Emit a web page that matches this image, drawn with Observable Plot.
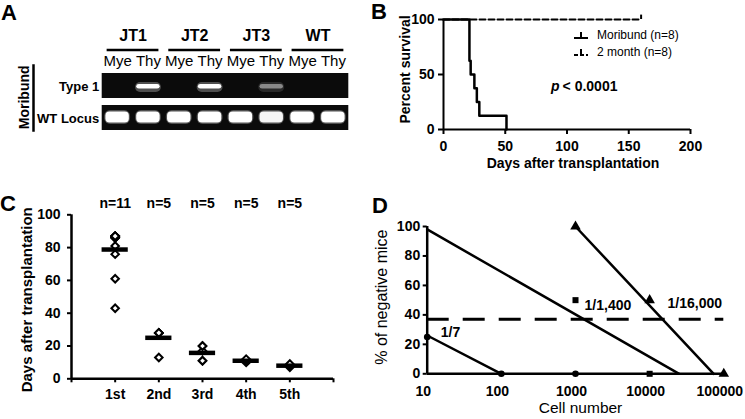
<!DOCTYPE html>
<html>
<head>
<meta charset="utf-8">
<script src="https://cdn.jsdelivr.net/npm/d3@7"></script>
<script src="https://cdn.jsdelivr.net/npm/@observablehq/plot@0.6"></script>
<style>
html,body{margin:0;padding:0;background:#fff;}
#fig{position:relative;width:745px;height:419px;overflow:hidden;background:#fff;font-family:"Liberation Sans",Arial,Helvetica,sans-serif;color:#000;}
#fig .panel{position:absolute;}
#fig .letter{position:absolute;font-weight:bold;font-size:22px;line-height:22px;}
#legendB{position:absolute;font-size:12px;}
#legendB .item{display:flex;align-items:center;height:17.5px;}
#legendB svg{margin-right:8px;}
</style>
</head>
<body>
<div id="fig"></div>
<script>
// ---------------- Panel A: gel ----------------
const gelGroups = ["JT1", "JT2", "JT3", "WT"];
const laneTypes = ["Mye", "Thy"];
const gelRows = ["Type 1", "WT Locus"];
const type1Intensity = [0, 1, 0, 1, 0, 0.45, 0, 0];
const wtLocusIntensity = [1, 1, 1, 1, 1, 0.95, 1, 1];
const gelSideLabel = ["Moribund"];

// ---------------- Panel B: survival ----------------
const moribundDays = [0, 21, 22, 25, 27, 29, 51];
const moribundSurvival = [100, 62.5, 50, 37.5, 25, 12.5, 0];
const twoMonthDays = [0, 160];
const twoMonthSurvival = [100, 100];
const twoMonthCensored = [160];
const survivalLegend = ["Moribund (n=8)", "2 month (n=8)"];
const survivalXTicks = [0, 50, 100, 150, 200];
const survivalYTicks = [0, 50, 100];
const pValueParts = ["p", "< 0.0001"];
const pValueAt = {day: 94, pct: 39};

// ---------------- Panel C: serial transplantation ----------------
const passages = ["1st", "2nd", "3rd", "4th", "5th"];
const passageN = ["n=11", "n=5", "n=5", "n=5", "n=5"];
const latency1st = [43, 61, 76, 81, 86, 86, 86, 87, 87, 87, 87];
const latency2nd = [13, 28, 28, 28, 28];
const latency3rd = [11, 11, 17, 20, 20];
const latency4th = [10, 11, 11, 11, 12];
const latency5th = [7, 8, 8, 8, 9];
const latencyYTicks = [0, 20, 40, 60, 80, 100];

// ---------------- Panel D: limiting dilution ----------------
const circleCells = [10, 100, 1000];
const circleNeg = [25, 0, 0];
const squareCells = [1000, 10000];
const squareNeg = [50, 0];
const triangleCells = [1000, 10000, 100000];
const triangleNeg = [100, 50, 0];
const fitCircleCells = [10, 100];
const fitCircleNeg = [26, 0];
const fitSquareCells = [10, 25000];
const fitSquareNeg = [98, 0];
const fitTriangleCells = [1000, 73000];
const fitTriangleNeg = [100, 0];
const thresholdNeg = [37];
const freqLabels = ["1/7", "1/1,400", "1/16,000"];
const freqLabelCells = [20.6, 2735, 40600];
const freqLabelNeg = [28, 46.4, 47.5];
const cellTicks = [10, 100, 1000, 10000, 100000];
const negTicks = [0, 20, 40, 60, 80, 100];

// ---------------- helpers ----------------
const FONT = '"Liberation Sans", Arial, Helvetica, sans-serif';
const svgStyle = `font-family:${FONT};font-size:14px;font-weight:bold;color:#000;background:transparent;overflow:visible;`;
const fig = document.getElementById("fig");
function place(el, left, top) {
  el.classList.add("panel");
  el.style.left = left + "px";
  el.style.top = top + "px";
  fig.appendChild(el);
}
function letter(t, left, top) {
  const d = document.createElement("div");
  d.className = "letter";
  d.textContent = t;
  d.style.left = left + "px";
  d.style.top = top + "px";
  fig.appendChild(d);
}
const mid = {textAnchor: "middle", lineAnchor: "middle"};

// ---------------- Panel A ----------------
const lanes = d3.range(gelGroups.length * laneTypes.length).map(i => ({
  i, group: gelGroups[Math.floor(i / laneTypes.length)], type: laneTypes[i % laneTypes.length]
}));
const nL = lanes.length;
const type1Bands = lanes.map(l => ({lane: l.i, row: gelRows[0], v: type1Intensity[l.i]})).filter(d => d.v > 0);
const wtBands = lanes.map(l => ({lane: l.i, row: gelRows[1], v: wtLocusIntensity[l.i]})).filter(d => d.v > 0);
const groupCenter = (d, i) => i * laneTypes.length + (laneTypes.length - 1) / 2;

const plotA = Plot.plot({
  width: 370, height: 180,
  marginLeft: 101.7, marginRight: 21.7, marginTop: 71.7, marginBottom: 50,
  style: svgStyle,
  x: {domain: [-0.5, nL - 0.5], axis: null},
  y: {type: "band", domain: gelRows, paddingInner: 0.23, paddingOuter: 0, axis: null},
  marks: [
    Plot.barX(gelRows, {x1: -0.5, x2: nL - 0.5, y: d => d, fill: "#0b0b0b"}),
    Plot.barX(type1Bands, {x1: d => d.lane - 0.42, x2: d => d.lane + 0.42, y: "row", insetTop: 9, insetBottom: 6,
      fill: "#cfcfcf", fillOpacity: d => d.v * 0.35, rx: 5, ariaLabel: "gel glow"}),
    Plot.barX(wtBands, {x1: d => d.lane - 0.42, x2: d => d.lane + 0.42, y: "row", insetTop: 5, insetBottom: 6,
      fill: "#cfcfcf", fillOpacity: d => d.v * 0.35, rx: 6, ariaLabel: "gel glow"}),
    Plot.barX(type1Bands, {x1: d => d.lane - 0.38, x2: d => d.lane + 0.38, y: "row", insetTop: 11, insetBottom: 9.5,
      fill: "#fff", fillOpacity: d => d.v, rx: 2.5, ariaLabel: "gel band"}),
    Plot.barX(wtBands, {x1: d => d.lane - 0.38, x2: d => d.lane + 0.38, y: "row", insetTop: 6.5, insetBottom: 7.5,
      fill: "#fff", fillOpacity: d => d.v, rx: 4, ariaLabel: "gel band"}),
    Plot.text(gelRows, {y: d => d, text: d => d, frameAnchor: "left", textAnchor: "end", lineAnchor: "middle", dx: -3, dy: 1, fontSize: 13}),
    Plot.text(lanes, {x: "i", text: "type", frameAnchor: "top", ...mid, dy: -11, fontWeight: "normal", fontSize: 15}),
    Plot.text(gelGroups, {x: groupCenter, text: d => d, frameAnchor: "top", ...mid, dy: -36, fontSize: 16}),
    Plot.ruleY(gelGroups, {y: () => gelRows[0], x1: (d, i) => groupCenter(d, i) - 0.84, x2: (d, i) => groupCenter(d, i) + 0.84,
      dy: -36, strokeWidth: 2.5}),
    Plot.frame({anchor: "left", dx: -68.7, insetTop: -6.7, strokeWidth: 2.5}),
    Plot.text(gelSideLabel, {text: d => d, frameAnchor: "left", ...mid, rotate: -90, dx: -77.7, dy: -4, fontSize: 14})
  ]
});
{
  const svg = d3.select(plotA.tagName === "svg" ? plotA : plotA.querySelector("svg"));
  const defs = svg.insert("defs", ":first-child");
  defs.append("filter").attr("id", "gelGlow").attr("x", "-30%").attr("y", "-80%").attr("width", "160%").attr("height", "260%")
    .append("feGaussianBlur").attr("stdDeviation", 1.8);
  defs.append("filter").attr("id", "gelSoft").attr("x", "-20%").attr("y", "-50%").attr("width", "140%").attr("height", "200%")
    .append("feGaussianBlur").attr("stdDeviation", 0.6);
  svg.selectAll('g[aria-label="gel glow"]').attr("filter", "url(#gelGlow)");
  svg.selectAll('g[aria-label="gel band"]').attr("filter", "url(#gelSoft)");
}
place(plotA, 0, 0);

// ---------------- Panel B ----------------
const moribund = moribundDays.map((d, i) => ({day: d, pct: moribundSurvival[i]}));
const twoMonth = twoMonthDays.map((d, i) => ({day: d, pct: twoMonthSurvival[i]}));
const plotB = Plot.plot({
  width: 375, height: 180,
  marginLeft: 73, marginRight: 55, marginTop: 19, marginBottom: 51,
  style: svgStyle,
  x: {domain: [0, 200]},
  y: {domain: [0, 100]},
  marks: [
    Plot.axisX({ticks: survivalXTicks, tickSize: 5, tickPadding: 7, strokeWidth: 2, label: null, fontSize: 14, fontWeight: "bold"}),
    Plot.axisY({ticks: survivalYTicks, tickSize: 5, tickPadding: 4, strokeWidth: 2, label: null, fontSize: 14, fontWeight: "bold"}),
    Plot.ruleY([0], {strokeWidth: 2}),
    Plot.ruleX([0], {strokeWidth: 2}),
    Plot.line(twoMonth, {x: "day", y: "pct", strokeWidth: 2, strokeDasharray: "6,3"}),
    Plot.ruleX(twoMonthCensored, {x: d => d, y1: 100, y2: 104, strokeWidth: 2}),
    Plot.line(moribund, {x: "day", y: "pct", curve: "step-after", strokeWidth: 2.5}),
    Plot.text([pValueParts[0]], {x: pValueAt.day, y: pValueAt.pct, text: d => d, textAnchor: "end", fontStyle: "italic", fontSize: 14}),
    Plot.text([pValueParts[1]], {x: pValueAt.day, y: pValueAt.pct, text: d => d, textAnchor: "start", dx: 3, fontSize: 14}),
    Plot.text(["Days after transplantation"], {text: d => d, frameAnchor: "bottom", ...mid, dy: 34, dx: 6, fontSize: 14}),
    Plot.text(["Percent survival"], {text: d => d, frameAnchor: "left", ...mid, rotate: -90, dx: -38, dy: -5, fontSize: 14})
  ]
});
place(plotB, 370, 0);

// legend for B
{
  const lg = document.createElement("div");
  lg.id = "legendB";
  lg.style.left = "573px";
  lg.style.top = "26px";
  survivalLegend.forEach((label, k) => {
    const item = document.createElement("div");
    item.className = "item";
    const dash = k === 0 ? "" : 'stroke-dasharray="4,2"';
    item.innerHTML =
      `<svg width="16" height="10"><line x1="1" x2="15" y1="8" y2="8" stroke="#000" stroke-width="2" ${dash}/>` +
      `<line x1="8" x2="8" y1="8" y2="2" stroke="#000" stroke-width="2"/></svg><span>${label}</span>`;
    lg.appendChild(item);
  });
  fig.appendChild(lg);
}

// ---------------- Panel C ----------------
const latency = [latency1st, latency2nd, latency3rd, latency4th, latency5th];
const cPoints = latency.flatMap((vals, g) => vals.map(v => ({g: g + 1, v})));
const cMeans = latency.map((vals, g) => ({g: g + 1, m: d3.mean(vals)}));
const plotC = Plot.plot({
  width: 370, height: 229,
  marginLeft: 71, marginRight: 37, marginTop: 24.3, marginBottom: 40.7,
  style: svgStyle,
  x: {domain: [0, passages.length + 1]},
  y: {domain: [0, 100]},
  marks: [
    Plot.axisY({ticks: latencyYTicks, tickSize: 4, tickPadding: 7, strokeWidth: 2, label: null, fontSize: 14, fontWeight: "bold"}),
    Plot.axisX({ticks: d3.range(0, passages.length + 2), tickFormat: i => passages[i - 1] ?? "", tickSize: 4, tickPadding: 6,
      strokeWidth: 2, label: null, fontSize: 14, fontWeight: "bold"}),
    Plot.ruleX([0], {strokeWidth: 2.5}),
    Plot.ruleY([0], {strokeWidth: 2.5}),
    Plot.dot(cPoints, {x: "g", y: "v", symbol: "diamond2", r: 3.4, stroke: "#000", strokeWidth: 2, fill: "#fff"}),
    Plot.ruleY(cMeans, {y: "m", x1: d => d.g - 0.3, x2: d => d.g + 0.3, strokeWidth: 4.5}),
    Plot.text(passageN, {x: (d, i) => i + 1, text: d => d, frameAnchor: "top", ...mid, dy: -11, fontSize: 14}),
    Plot.text(["Days after transplantation"], {text: d => d, frameAnchor: "left", ...mid, rotate: -90, dx: -44, dy: 3, fontSize: 15})
  ]
});
place(plotC, 0, 190);

// ---------------- Panel D ----------------
const zip = (xs, ys, s) => xs.map((x, i) => ({cells: x, neg: ys[i], s}));
const dFits = [
  ...zip(fitCircleCells, fitCircleNeg, "circle"),
  ...zip(fitSquareCells, fitSquareNeg, "square"),
  ...zip(fitTriangleCells, fitTriangleNeg, "triangle")
];
const plotD = Plot.plot({
  width: 375, height: 229,
  marginLeft: 56.7, marginRight: 21.7, marginTop: 36, marginBottom: 45.7,
  style: svgStyle,
  x: {type: "log", domain: [10, 100000]},
  y: {domain: [0, 100]},
  marks: [
    Plot.axisX({ticks: cellTicks, tickFormat: d => String(d), tickSize: 0, tickPadding: 12, dx: -4, label: null, fontSize: 14, fontWeight: "bold"}),
    Plot.axisY({ticks: negTicks, tickSize: 4, tickPadding: 3, strokeWidth: 2, label: null, fontSize: 14, fontWeight: "bold"}),
    Plot.ruleY([0], {strokeWidth: 2.5}),
    Plot.ruleX([10], {strokeWidth: 2.5}),
    Plot.ruleY(thresholdNeg, {strokeWidth: 3, strokeDasharray: "22,14"}),
    Plot.line(dFits, {x: "cells", y: "neg", z: "s", strokeWidth: 2.5}),
    Plot.dot(zip(circleCells, circleNeg), {x: "cells", y: "neg", symbol: "circle", r: 3.3, fill: "#000"}),
    Plot.dot(zip(squareCells, squareNeg), {x: "cells", y: "neg", symbol: "square", r: 3.4, fill: "#000"}),
    Plot.dot(zip(triangleCells, triangleNeg), {x: "cells", y: "neg", symbol: "triangle", r: 3.9, fill: "#000"}),
    Plot.text(freqLabels, {x: (d, i) => freqLabelCells[i], y: (d, i) => freqLabelNeg[i], text: d => d, fontSize: 14}),
    Plot.text(["Cell number"], {text: d => d, frameAnchor: "bottom", ...mid, dy: 34, dx: 5, fontSize: 15.5, fontWeight: "normal"}),
    Plot.text(["% of negative mice"], {text: d => d, frameAnchor: "left", ...mid, rotate: -90, dx: -45, dy: -3, fontSize: 16, fontWeight: "normal"})
  ]
});
place(plotD, 370, 190);

// panel letters
letter("A", 1, 2);
letter("B", 371, 1);
letter("C", 0, 193);
letter("D", 372, 195);
</script>
</body>
</html>
